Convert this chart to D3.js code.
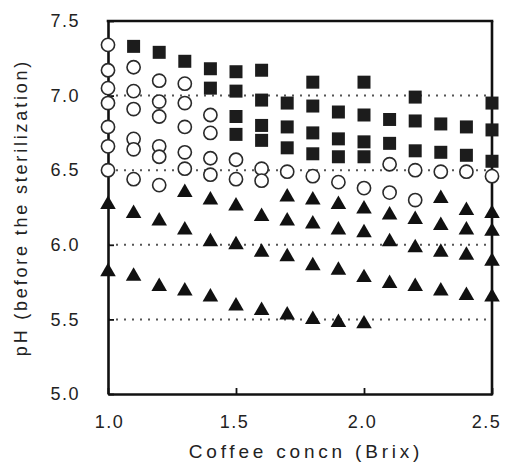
<!DOCTYPE html>
<html>
<head>
<meta charset="utf-8">
<script src="https://cdn.jsdelivr.net/npm/d3@7/dist/d3.min.js"></script>
<style>
  html, body { margin: 0; padding: 0; background: #fff; }
  svg { display: block; }
  text { font-family: "Liberation Sans", Arial, Helvetica, sans-serif; fill: #222; }
</style>
</head>
<body>
<svg id="chart" width="505" height="468"></svg>
<script>
// ---- data (Brix, pH) ----
const xTicks = [1.0, 1.5, 2.0, 2.5];
const yTicks = [5.0, 5.5, 6.0, 6.5, 7.0, 7.5];
const refLines = [5.5, 6.0, 6.5, 7.0];

const squares = [
  [1.1, 7.33], [1.2, 7.29], [1.3, 7.23], [1.4, 7.18], [1.4, 7.05],
  [1.5, 7.16], [1.5, 7.03], [1.5, 6.86], [1.5, 6.74],
  [1.6, 7.17], [1.6, 6.97], [1.6, 6.80], [1.6, 6.70],
  [1.7, 6.95], [1.7, 6.79], [1.7, 6.65],
  [1.8, 7.09], [1.8, 6.93], [1.8, 6.75], [1.8, 6.61],
  [1.9, 6.89], [1.9, 6.71], [1.9, 6.59],
  [2.0, 7.09], [2.0, 6.87], [2.0, 6.69], [2.0, 6.59],
  [2.1, 6.84], [2.1, 6.68],
  [2.2, 6.99], [2.2, 6.83], [2.2, 6.63],
  [2.3, 6.81], [2.3, 6.62],
  [2.4, 6.79], [2.4, 6.60],
  [2.5, 6.95], [2.5, 6.77], [2.5, 6.56]
];

const circles = [
  [1.0, 7.34], [1.0, 7.17], [1.0, 7.05], [1.0, 6.95], [1.0, 6.79], [1.0, 6.66], [1.0, 6.50],
  [1.1, 7.19], [1.1, 7.03], [1.1, 6.91], [1.1, 6.71], [1.1, 6.64], [1.1, 6.44],
  [1.2, 7.10], [1.2, 6.96], [1.2, 6.86], [1.2, 6.66], [1.2, 6.59], [1.2, 6.40],
  [1.3, 7.08], [1.3, 6.95], [1.3, 6.79], [1.3, 6.62], [1.3, 6.51],
  [1.4, 6.87], [1.4, 6.75], [1.4, 6.58], [1.4, 6.47],
  [1.5, 6.57], [1.5, 6.44],
  [1.6, 6.51], [1.6, 6.43],
  [1.7, 6.49], [1.8, 6.46], [1.9, 6.42], [2.0, 6.38],
  [2.1, 6.54], [2.1, 6.35],
  [2.2, 6.50], [2.2, 6.30],
  [2.3, 6.49], [2.4, 6.49], [2.5, 6.46]
];

const triangles = [
  [1.0, 6.27], [1.0, 5.82],
  [1.1, 6.21], [1.1, 5.79],
  [1.2, 6.16], [1.2, 5.72],
  [1.3, 6.35], [1.3, 6.10], [1.3, 5.69],
  [1.4, 6.30], [1.4, 6.02], [1.4, 5.65],
  [1.5, 6.26], [1.5, 6.00], [1.5, 5.59],
  [1.6, 6.19], [1.6, 5.95], [1.6, 5.56],
  [1.7, 6.32], [1.7, 6.16], [1.7, 5.92], [1.7, 5.53],
  [1.8, 6.30], [1.8, 6.14], [1.8, 5.86], [1.8, 5.50],
  [1.9, 6.27], [1.9, 6.10], [1.9, 5.83], [1.9, 5.48],
  [2.0, 6.24], [2.0, 6.08], [2.0, 5.78], [2.0, 5.47],
  [2.1, 6.20], [2.1, 6.02], [2.1, 5.74],
  [2.2, 6.17], [2.2, 5.98], [2.2, 5.72],
  [2.3, 6.31], [2.3, 6.13], [2.3, 5.95], [2.3, 5.69],
  [2.4, 6.23], [2.4, 6.10], [2.4, 5.93], [2.4, 5.66],
  [2.5, 6.21], [2.5, 6.09], [2.5, 5.89], [2.5, 5.65]
];

// ---- layout ----
const margin = { left: 108, right: 13, top: 21, bottom: 74 };
const W = 505, H = 468;
const svg = d3.select("#chart");

const x = d3.scaleLinear().domain([1.0, 2.5]).range([margin.left, W - margin.right]);
const y = d3.scaleLinear().domain([5.0, 7.5]).range([H - margin.bottom, margin.top]);

// reference dotted lines
svg.append("g").selectAll("line").data(refLines).join("line")
  .attr("x1", x(1.0)).attr("x2", x(2.5))
  .attr("y1", d => y(d)).attr("y2", d => y(d))
  .attr("stroke", "#555").attr("stroke-width", 2)
  .attr("stroke-dasharray", "2,6");

// axes
const fmt = d3.format(".1f");
const xAxis = svg.append("g").attr("transform", `translate(0,${y(5.0)})`)
  .call(d3.axisBottom(x).tickValues(xTicks).tickFormat(fmt).tickSizeInner(-6).tickSizeOuter(0).tickPadding(21));
const yAxis = svg.append("g").attr("transform", `translate(${x(1.0)},0)`)
  .call(d3.axisLeft(y).tickValues(yTicks).tickFormat(fmt).tickSizeInner(-6).tickSizeOuter(0).tickPadding(28));
[xAxis, yAxis].forEach(g => {
  g.select(".domain").attr("stroke", "#111").attr("stroke-width", 2.6);
  g.selectAll(".tick line").attr("stroke", "#111").attr("stroke-width", 1.8);
  g.selectAll(".tick text").attr("font-size", 18).attr("letter-spacing", "1.5px")
    .attr("fill", "#222").attr("font-family", "'Liberation Sans', Arial, sans-serif");
});
xAxis.selectAll(".tick text").attr("dx", d => d === 2.5 ? "-6px" : (d === 1.0 ? "1px" : "-2px"));

// top and right frame
svg.append("line").attr("x1", x(1.0) - 1.3).attr("x2", x(2.5) + 1.3)
  .attr("y1", y(7.5)).attr("y2", y(7.5)).attr("stroke", "#111").attr("stroke-width", 2.6);
svg.append("line").attr("x1", x(2.5)).attr("x2", x(2.5))
  .attr("y1", y(7.5)).attr("y2", y(5.0) + 1.3).attr("stroke", "#111").attr("stroke-width", 2.6);

// markers
const symSquare = d3.symbol().type(d3.symbolSquare).size(169);
const symTri = d3.symbol().type(d3.symbolTriangle).size(105);

svg.append("g").selectAll("path").data(squares).join("path")
  .attr("d", symSquare)
  .attr("transform", d => `translate(${x(d[0])},${y(d[1])})`)
  .attr("fill", "#1c1c1c");

svg.append("g").selectAll("circle").data(circles).join("circle")
  .attr("cx", d => x(d[0])).attr("cy", d => y(d[1])).attr("r", 6.6)
  .attr("fill", "#fff").attr("stroke", "#2a2a2a").attr("stroke-width", 1.6);

svg.append("g").selectAll("path").data(triangles).join("path")
  .attr("d", symTri)
  .attr("transform", d => `translate(${x(d[0])},${y(d[1])})`)
  .attr("fill", "#111");

// axis titles
svg.append("text")
  .attr("x", (x(1.0) + x(2.5)) / 2 + 6).attr("y", 458)
  .attr("text-anchor", "middle").attr("font-size", 19).attr("letter-spacing", "3.8px")
  .text("Coffee concn (Brix)");

svg.append("text")
  .attr("transform", `translate(27,${(y(5.0) + y(7.5)) / 2}) rotate(-90)`)
  .attr("text-anchor", "middle").attr("font-size", 18).attr("letter-spacing", "2.8px")
  .text("pH (before the sterilization)");
</script>
</body>
</html>
